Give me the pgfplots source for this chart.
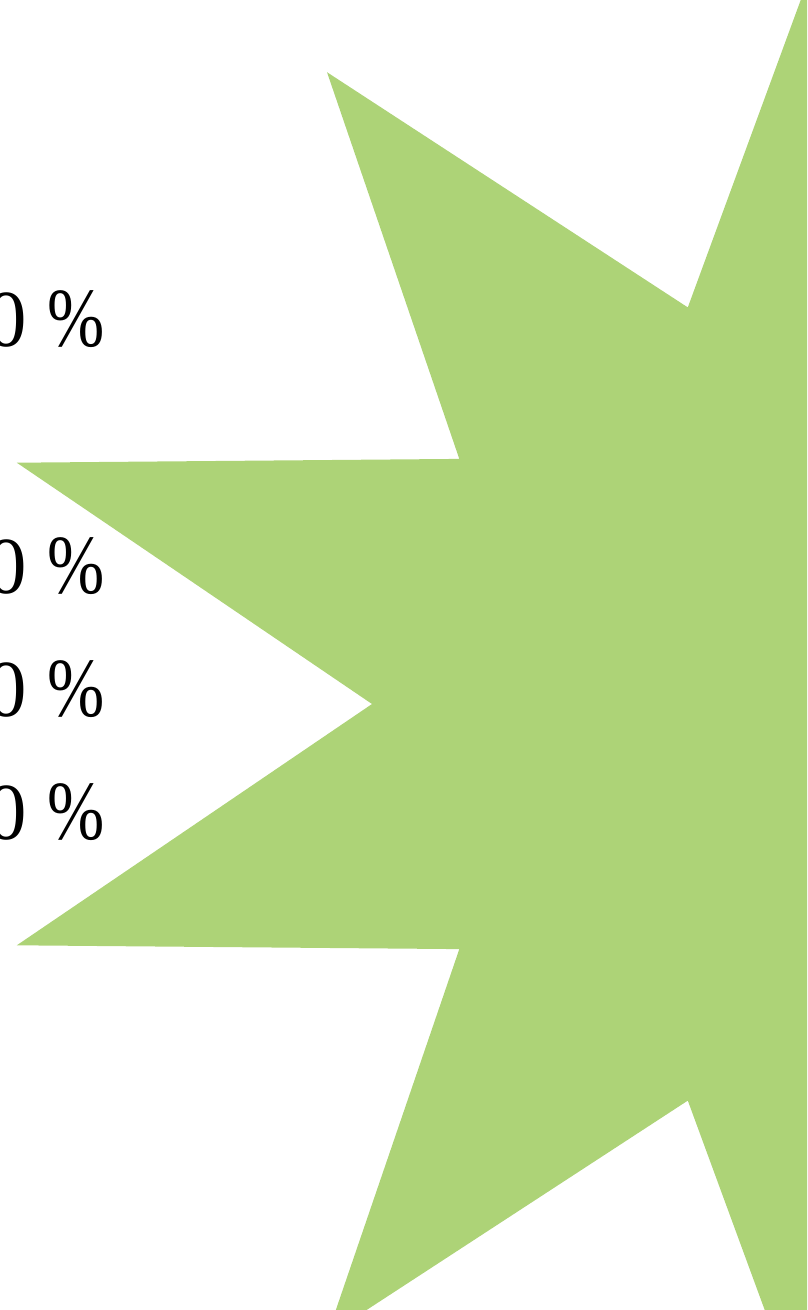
\documentclass[border=0pt]{standalone}
\usepackage{graphicx}
\usepackage{pgfplots}
\pgfplotsset{compat=1.18}
\usepackage{fontspec}
\setmainfont{Liberation Serif}
\definecolor{stargreen}{RGB}{173,211,119}
\newcommand{\lab}[1]{\fontsize{23}{28}\selectfont #1\ \scalebox{0.85}[1.04]{\%}}
\begin{document}
\begin{tikzpicture}
\begin{axis}[
  width=8.07cm, height=13.1cm, scale only axis,
  xmin=0, xmax=807, ymin=0, ymax=1310, y dir=reverse,
  hide axis, clip=true,
]
\addplot[fill=stargreen, draw=none] coordinates {
  (829,-77) (970.2,307.4) (1331.0,72.2) (1198.7,458.9) (1641.2,462.7)
  (1286,704) (1641.2,945.3) (1198.7,949.1) (1331.0,1335.8) (970.2,1100.6)
  (829,1485) (687.8,1100.6) (327.0,1335.8) (459.3,949.1) (16.8,945.3)
  (372,704) (16.8,462.7) (459.3,458.9) (327.0,72.2) (687.8,307.4)
} -- cycle;
\coordinate (bl) at (axis cs:0,1310);
\coordinate (tr) at (axis cs:807,0);
\node[anchor=base east, inner sep=0pt] at (axis cs:105,346) {\lab{50}};
\node[anchor=base east, inner sep=0pt] at (axis cs:105,593) {\lab{30}};
\node[anchor=base east, inner sep=0pt] at (axis cs:105,716) {\lab{20}};
\node[anchor=base east, inner sep=0pt] at (axis cs:105,839) {\lab{10}};
\end{axis}
\pgfresetboundingbox
\path[use as bounding box] (bl) rectangle (tr);
\end{tikzpicture}
\end{document}
